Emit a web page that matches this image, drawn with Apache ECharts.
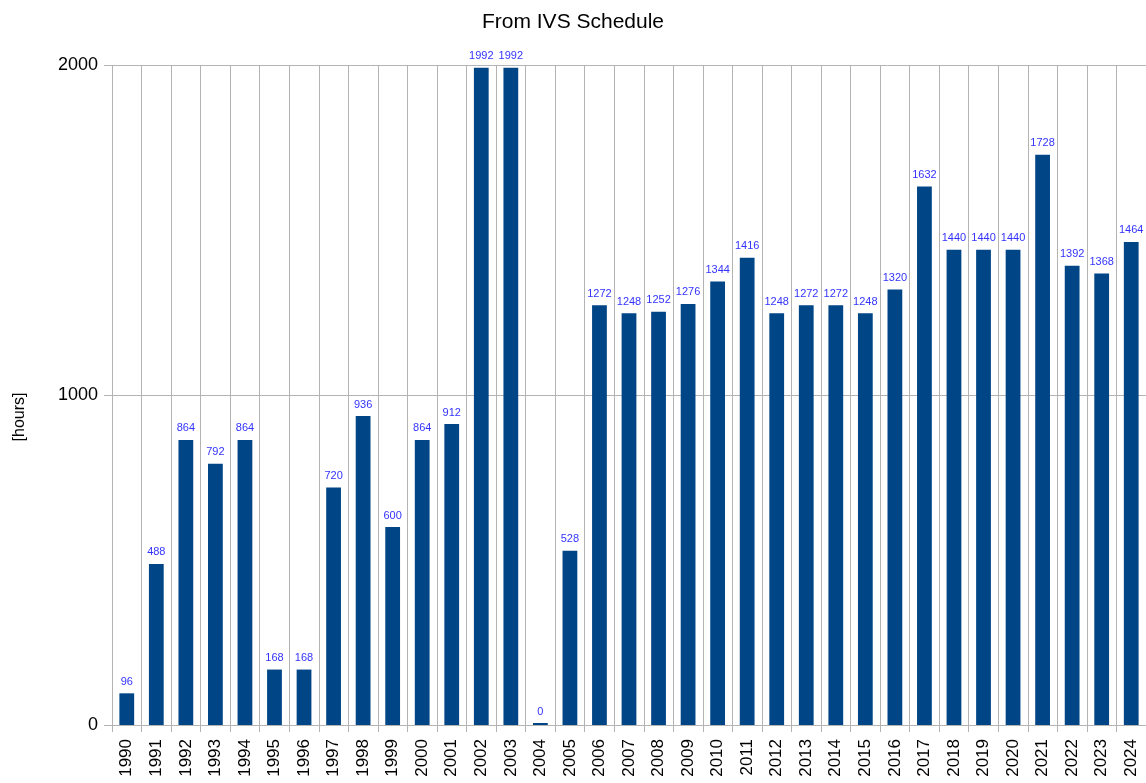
<!DOCTYPE html>
<html>
<head>
<meta charset="utf-8">
<script src="https://cdn.jsdelivr.net/npm/echarts@6/dist/echarts.min.js"></script>
<style>
html,body{margin:0;padding:0;background:#fff;}
#chart{width:1146px;height:783px;}
</style>
</head>
<body>
<div id="chart"></div>
<script>
const years = ['1990','1991','1992','1993','1994','1995','1996','1997','1998','1999','2000','2001','2002','2003','2004','2005','2006','2007','2008','2009','2010','2011','2012','2013','2014','2015','2016','2017','2018','2019','2020','2021','2022','2023','2024'];
const hours = [96,488,864,792,864,168,168,720,936,600,864,912,1992,1992,0,528,1272,1248,1252,1276,1344,1416,1248,1272,1272,1248,1320,1632,1440,1440,1440,1728,1392,1368,1464];
const yTicks = [0, 1000, 2000];
const titleText = 'From IVS Schedule';
const yName = '[hours]';

const chart = echarts.init(document.getElementById('chart'), null, {renderer:'canvas'});
const font = '"Liberation Sans", Arial, sans-serif';
chart.setOption({
  animation: false,
  backgroundColor: '#ffffff',
  title: {
    text: titleText,
    left: 'center',
    top: 7,
    textStyle: {fontFamily: font, fontSize: 21, fontWeight: 'normal', color: '#000'}
  },
  graphic: [{
    type: 'text',
    x: 12,
    y: 417,
    rotation: Math.PI / 2,
    style: {
      text: yName,
      font: '16px ' + font,
      fill: '#000',
      align: 'center',
      verticalAlign: 'top'
    }
  }],
  grid: {left: 112, right: -2, top: 65, bottom: 58, containLabel: false},
  xAxis: {
    type: 'category',
    data: years,
    boundaryGap: true,
    axisLine: {show: true, lineStyle: {color: '#b3b3b3', width: 1}},
    axisTick: {show: true, length: 7, alignWithLabel: false, lineStyle: {color: '#b3b3b3'}},
    axisLabel: {rotate: 90, interval: 0, margin: 14, fontFamily: font, fontSize: 17, color: '#000'},
    splitLine: {show: true, interval: 0, lineStyle: {color: '#b3b3b3', width: 1}}
  },
  yAxis: {
    type: 'value',
    min: yTicks[0],
    max: yTicks[yTicks.length - 1],
    interval: 1000,
    axisLine: {show: false},
    axisTick: {show: true, length: 8, lineStyle: {color: '#b3b3b3'}},
    axisLabel: {margin: 14, fontFamily: font, fontSize: 18, color: '#000', formatter: function (v) { return String(v); }},
    splitLine: {show: true, lineStyle: {color: '#b3b3b3', width: 1}}
  },
  series: [{
    type: 'bar',
    data: hours,
    barWidth: '50%',
    barMinHeight: 2,
    itemStyle: {color: '#004586'},
    label: {
      show: true,
      position: 'top',
      distance: 6,
      fontFamily: font,
      fontSize: 11,
      color: '#3333ff'
    }
  }]
});
</script>
</body>
</html>
